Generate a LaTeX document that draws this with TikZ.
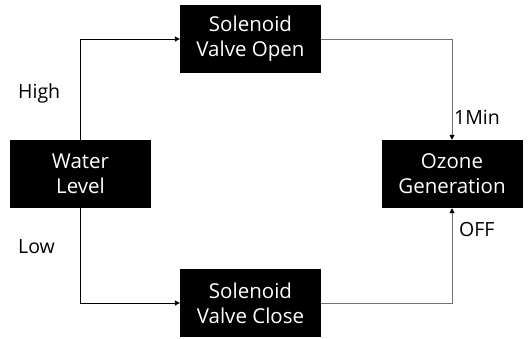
\documentclass[tikz,border=0pt]{standalone}
\usepackage{fontspec}
\setmainfont{Open Sans}
\usetikzlibrary{arrows.meta}
\begin{document}
\begin{tikzpicture}[x=1pt,y=-1pt,
  blk/.style={fill=black,text=white,minimum width=141pt,minimum height=68pt,inner sep=0pt,align=center,font=\fontsize{20.5}{25}\selectfont},
  lbl/.style={font=\fontsize{19.5}{22}\selectfont,inner sep=0pt},
  conn/.style={line width=0.9pt,-{Triangle[length=5pt,width=5pt,color=black]}},
  connL/.style={conn,draw=black},
  connR/.style={conn,draw=black!55}]
\useasboundingbox (0,0) rectangle (532,339);
\node[blk] (open) at (250.5,39) {Solenoid\\Valve Open};
\node[blk] (close) at (250.5,303) {Solenoid\\Valve Close};
\node[blk] (water) at (80.5,174) {Water\\Level};
\node[blk] (ozone) at (452,174) {Ozone\\Generation};
\draw[connL] (water.north) -- (water.north |- open.west) -- (open.west);
\draw[connL] (water.south) -- (water.south |- close.west) -- (close.west);
\draw[connR] (open.east) -- (ozone.north |- open.east) -- (ozone.north);
\draw[connR] (close.east) -- (ozone.south |- close.east) -- (ozone.south);
\node[lbl,anchor=west] (high) at (18,93) {High};
\node[lbl,anchor=west] (low) at (18,247) {Low};
\node[lbl,anchor=west] (min) at (454,117) {1Min};
\node[lbl,anchor=west] (off) at (459,230) {OFF};
\end{tikzpicture}
\end{document}
